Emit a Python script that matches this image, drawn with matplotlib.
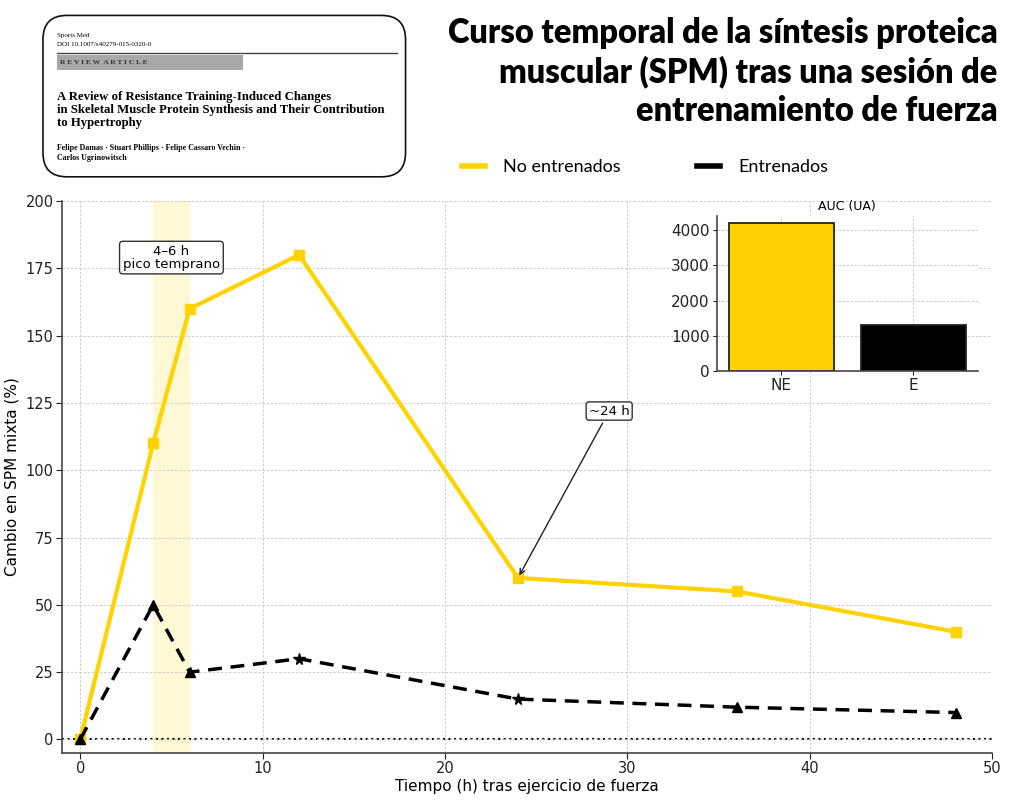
import numpy as np
import matplotlib
matplotlib.use("Agg")
import matplotlib.pyplot as plt
from matplotlib.patches import FancyBboxPatch, Rectangle
from matplotlib.lines import Line2D

# data
horas = [0, 4, 6, 12, 24, 36, 48]
no_entrenados = [0, 110, 160, 180, 60, 55, 40]
entrenados = [0, 50, 25, 30, 15, 12, 10]

auc_labels = ["NE", "E"]
auc_values = [4200, 1300]

titulo = "Curso temporal de la síntesis proteica\nmuscular (SPM) tras una sesión de\nentrenamiento de fuerza"

# style
AMARILLO = "#FFD200"
marcas_e = ["^", "^", "^", "*", "*", "^", "^"]

fig = plt.figure(figsize=(10.24, 8.01), dpi=100)

# main axes
ax = fig.add_axes([0.0605, 0.06, 0.9085, 0.689])
ax.axvspan(4, 6, color="#FFD700", alpha=0.17, lw=0, zorder=0)
ax.axhline(0, color="black", ls=":", lw=1.5, zorder=1)
ax.plot(horas, no_entrenados, color=AMARILLO, lw=3, marker="s", ms=7, zorder=3)
ax.plot(horas, entrenados, color="black", lw=2.5, ls=(0, (4, 2.5)), zorder=3)
for x, y, m in zip(horas, entrenados, marcas_e):
    ax.plot(x, y, marker=m, color="black", ms=6.5 if m == "^" else 8.5, zorder=4)

ax.set_xlim(-1, 50)
ax.set_ylim(-5, 200)
ax.set_yticks(np.arange(0, 201, 25))
ax.set_xticks([0, 10, 20, 30, 40, 50])
ax.grid(True, ls=(0, (3, 2)), lw=0.6, color="#c4c4c4")
for s in ["top", "right"]:
    ax.spines[s].set_visible(False)
for s in ["left", "bottom"]:
    ax.spines[s].set_color("#444444")
    ax.spines[s].set_linewidth(1.2)
ax.tick_params(labelsize=10.5, colors="#222222", direction="out", length=4, pad=2)
ax.set_xlabel("Tiempo (h) tras ejercicio de fuerza", fontsize=11, labelpad=2)
ax.set_ylabel("Cambio en SPM mixta (%)", fontsize=11, labelpad=4)

ax.text(5, 179, "4–6 h\npico temprano", ha="center", va="center", fontsize=9.5,
        linespacing=1.0,
        bbox=dict(boxstyle="round,pad=0.25", fc="white", ec="#333333", lw=1))
ax.annotate("~24 h", xy=(24, 60), xytext=(29, 122), ha="center", va="center",
            fontsize=9.5,
            bbox=dict(boxstyle="round,pad=0.2", fc="white", ec="#333333", lw=1),
            arrowprops=dict(arrowstyle="->", color="#222222", lw=1,
                            shrinkA=2, shrinkB=2))

# inset
axi = fig.add_axes([0.700, 0.537, 0.255, 0.1935])
axi.bar(range(len(auc_labels)), auc_values, width=0.8,
        color=[AMARILLO, "black"], edgecolor="#222222", lw=1.3, zorder=2)
axi.set_xticks(range(len(auc_labels)))
axi.set_xticklabels(auc_labels)
axi.set_yticks([0, 1000, 2000, 3000, 4000])
axi.grid(True, ls=(0, (3, 2)), lw=0.6, color="#c4c4c4", zorder=0)
axi.set_axisbelow(True)
axi.set_title("AUC (UA)", fontsize=9, pad=4)
for s in ["top", "right"]:
    axi.spines[s].set_visible(False)
for s in ["left", "bottom"]:
    axi.spines[s].set_color("#444444")
    axi.spines[s].set_linewidth(1.2)
axi.tick_params(labelsize=11, colors="#222222", length=3, pad=2)

# title and legend
fig.text(0.974, 0.979, titulo, ha="right", va="top", fontsize=23.5,
         family="Lato", weight="heavy", linespacing=1.25)
handles = [Line2D([], [], color=AMARILLO, lw=4),
           Line2D([], [], color="black", lw=4)]
fig.legend(handles, ["No entrenados", "Entrenados"], loc="center",
           bbox_to_anchor=(0.630, 0.791), ncol=2, frameon=False,
           prop=dict(family="Lato", size=13), handlelength=1.3,
           columnspacing=4.2, handletextpad=1.0)

# paper box
axp = fig.add_axes([0.041, 0.778, 0.356, 0.204])
axp.set_xlim(42, 407)
axp.set_ylim(178, 15)
axp.axis("off")
axp.add_patch(FancyBboxPatch((43, 16), 363, 161, boxstyle="round,pad=0,rounding_size=24",
                             fc="white", ec="#111111", lw=1.2, clip_on=False))
serif = "Liberation Serif"
axp.text(57, 36, "Sports Med", fontsize=5, family=serif, va="center")
axp.text(57, 45, "DOI 10.1007/s40279-015-0320-0", fontsize=5, family=serif, va="center")
axp.plot([57, 397], [53, 53], color="#444444", lw=1)
axp.add_patch(Rectangle((57, 55.5), 186, 14.5, fc="#a8a8a8", ec="none"))
axp.text(60, 63, "R E V I E W  A R T I C L E", fontsize=5.4, family=serif,
         weight="bold", color="#333333", va="center")
axp.text(57, 110.5, "A Review of Resistance Training-Induced Changes\n"
         "in Skeletal Muscle Protein Synthesis and Their Contribution\n"
         "to Hypertrophy", fontsize=9.2, family=serif, weight="bold",
         va="center", linespacing=1.08)
axp.text(57, 153, "Felipe Damas · Stuart Phillips · Felipe Cassaro Vechin ·\n"
         "Carlos Ugrinowitsch", fontsize=5.7, family=serif, weight="bold",
         va="center", linespacing=1.35)

fig.savefig("out.png", dpi=100)
